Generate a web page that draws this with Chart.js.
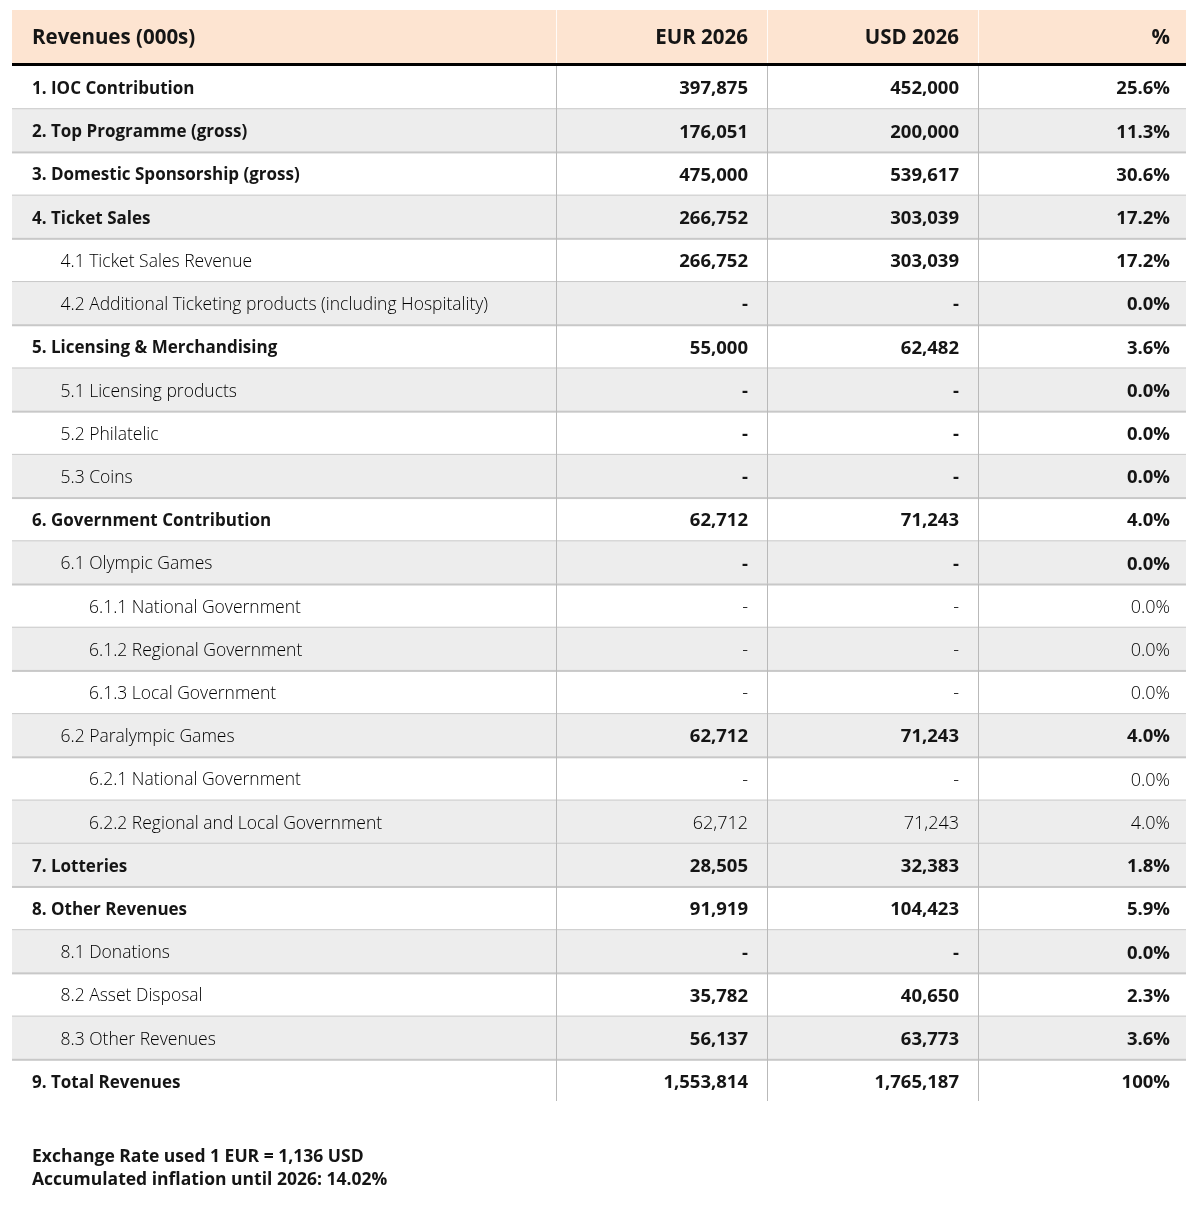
<!DOCTYPE html>
<html>
<head>
<meta charset="utf-8">
<title>Revenues (000s)</title>
<script src="https://cdn.jsdelivr.net/npm/chart.js@4.4.1/dist/chart.umd.min.js"></script>
<style>
  html, body { margin: 0; padding: 0; background: #ffffff; }
  #wrap { width: 1200px; height: 1229px; position: relative; }
</style>
</head>
<body>
<div id="wrap"><canvas id="revenueTable" width="1200" height="1229"></canvas></div>
<script>
// table data
var columnHeaders = ["Revenues (000s)", "EUR 2026", "USD 2026", "%"];
var rowLabels = [
  "1. IOC Contribution", "2. Top Programme (gross)", "3. Domestic Sponsorship (gross)",
  "4. Ticket Sales", "4.1 Ticket Sales Revenue",
  "4.2 Additional Ticketing products (including Hospitality)",
  "5. Licensing & Merchandising", "5.1 Licensing products", "5.2 Philatelic", "5.3 Coins",
  "6. Government Contribution", "6.1 Olympic Games", "6.1.1 National Government",
  "6.1.2 Regional Government", "6.1.3 Local Government", "6.2 Paralympic Games",
  "6.2.1 National Government", "6.2.2 Regional and Local Government",
  "7. Lotteries", "8. Other Revenues", "8.1 Donations", "8.2 Asset Disposal",
  "8.3 Other Revenues", "9. Total Revenues"
];
var rowLevels = [0, 0, 0, 0, 1, 1, 0, 1, 1, 1, 0, 1, 2, 2, 2, 1, 2, 2, 0, 0, 1, 1, 1, 0];
var eurValues = [397875, 176051, 475000, 266752, 266752, 0, 55000, 0, 0, 0, 62712, 0, 0, 0, 0, 62712, 0, 62712, 28505, 91919, 0, 35782, 56137, 1553814];
var usdValues = [452000, 200000, 539617, 303039, 303039, 0, 62482, 0, 0, 0, 71243, 0, 0, 0, 0, 71243, 0, 71243, 32383, 104423, 0, 40650, 63773, 1765187];
var pctValues = [25.6, 11.3, 30.6, 17.2, 17.2, 0, 3.6, 0, 0, 0, 4.0, 0, 0, 0, 0, 4.0, 0, 4.0, 1.8, 5.9, 0, 2.3, 3.6, 100];
var boldValues = [1, 1, 1, 1, 1, 1, 1, 1, 1, 1, 1, 1, 0, 0, 0, 1, 0, 0, 1, 1, 1, 1, 1, 1];
var shadedRows = [0, 1, 0, 1, 0, 1, 0, 1, 0, 1, 0, 1, 0, 1, 0, 1, 0, 1, 1, 0, 1, 0, 1, 0];
var footNotes = ["Exchange Rate used 1 EUR = 1,136 USD", "Accumulated inflation until 2026: 14.02%"];

var fontFamily = "'Open Sans', 'Noto Sans', sans-serif";
var textColor = "#151515";

function fmtNumber(v) {
  if (v === 0) return "-";
  return v.toLocaleString("en-US");
}
function fmtPct(v) {
  if (v === 100) return "100%";
  return v.toFixed(1) + "%";
}

// column edges / right text positions, in table units (table is 1174 wide)
var colEdges = [0, 544, 755, 966, 1174];
var colTextRight = [0, 736, 947, 1158];

var tablePlugin = {
  id: "tablePlugin",
  beforeDatasetsDraw: function(chart) {
    var c = chart.ctx;
    var area = chart.chartArea;
    var yScale = chart.scales.y;
    var left = area.left, width = area.right - area.left;
    var sx = width / 1174;
    var rowH = (area.bottom - area.top) / rowLabels.length;

    c.save();
    // header band
    c.fillStyle = "#fde4d1";
    c.fillRect(left, 10, width, area.top - 13);
    c.strokeStyle = "rgba(255,255,255,0.85)";
    c.lineWidth = 1;
    for (var k = 1; k < 4; k++) {
      var hx = Math.round(left + colEdges[k] * sx) + 0.5;
      c.beginPath(); c.moveTo(hx, 10); c.lineTo(hx, area.top - 3); c.stroke();
    }
    c.fillStyle = textColor;
    c.font = "bold 20.5px " + fontFamily;
    c.textBaseline = "middle";
    c.textAlign = "left";
    c.fillText(columnHeaders[0], left + 20, 38);
    c.textAlign = "right";
    for (k = 1; k < 4; k++) {
      c.fillText(columnHeaders[k], left + colTextRight[k] * sx, 38);
    }
    // thick rule under header
    c.fillStyle = "#000000";
    c.fillRect(left, area.top - 3, width, 3);

    // rows
    for (var i = 0; i < rowLabels.length; i++) {
      var yc = yScale.getPixelForValue(i);
      var top = yc - rowH / 2;
      if (shadedRows[i]) {
        c.fillStyle = "#ededed";
        c.fillRect(left, top, width, rowH);
      }
      if (i < rowLabels.length - 1) {
        c.fillStyle = "#c8c8c8";
        c.fillRect(left, top + rowH - 1, width, 2);
      }
    }
    // column separators
    c.strokeStyle = "#b9b9b9";
    c.lineWidth = 1;
    for (k = 1; k < 4; k++) {
      var x = Math.round(left + colEdges[k] * sx) + 0.5;
      c.beginPath(); c.moveTo(x, area.top); c.lineTo(x, area.bottom - 2); c.stroke();
    }

    // cell text
    c.textBaseline = "middle";
    for (i = 0; i < rowLabels.length; i++) {
      var y = yScale.getPixelForValue(i) + 1.5;
      var lvl = rowLevels[i];
      c.textAlign = "left";
      c.fillStyle = lvl === 0 ? textColor : "#000000";
      c.font = (lvl === 0 ? "bold 17px " : "300 17.5px ") + fontFamily;
      c.fillText(rowLabels[i], left + 20 + lvl * 28.5, y);
      c.textAlign = "right";
      c.fillStyle = boldValues[i] ? textColor : "#000000";
      c.font = (boldValues[i] ? "bold 18.5px " : "300 18px ") + fontFamily;
      c.fillText(fmtNumber(eurValues[i]), left + colTextRight[1] * sx, y);
      c.fillText(fmtNumber(usdValues[i]), left + colTextRight[2] * sx, y);
      c.fillText(fmtPct(pctValues[i]), left + colTextRight[3] * sx, y);
    }

    // notes
    c.fillStyle = textColor;
    c.textAlign = "left";
    c.font = "bold 17.5px " + fontFamily;
    c.fillText(footNotes[0], left + 20, 1157);
    c.fillText(footNotes[1], left + 20, 1180);
    c.restore();
  }
};

var tableChart = new Chart(document.getElementById("revenueTable"), {
  type: "bar",
  data: {
    labels: rowLabels,
    datasets: [{
      label: "EUR 2026",
      data: eurValues,
      backgroundColor: "rgba(0,0,0,0)",
      borderWidth: 0
    }]
  },
  options: {
    indexAxis: "y",
    responsive: false,
    maintainAspectRatio: false,
    devicePixelRatio: 1,
    animation: false,
    events: [],
    layout: { padding: { left: 12, right: 14, top: 66, bottom: 126 } },
    plugins: { legend: { display: false }, tooltip: { enabled: false } },
    scales: {
      x: { display: false, min: 0, max: 1600000 },
      y: { display: false, offset: true, grid: { offset: true } }
    }
  },
  plugins: [tablePlugin]
});
</script>
</body>
</html>
